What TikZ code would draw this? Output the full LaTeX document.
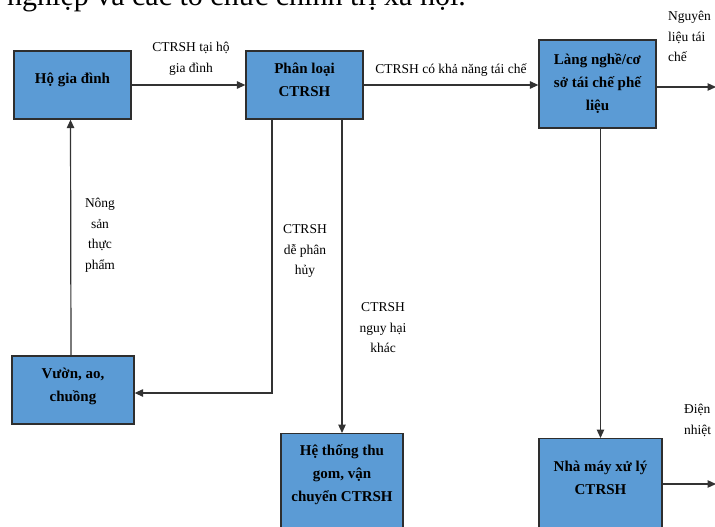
\documentclass[tikz,border=0pt]{standalone}
\usepackage{fontspec}
\setmainfont{Liberation Serif}
\usetikzlibrary{arrows.meta}
\definecolor{boxblue}{HTML}{5B9BD5}
\definecolor{edgegray}{HTML}{2E2E2E}
\definecolor{linegray}{HTML}{333333}
\tikzset{
  box/.style={draw=edgegray, line width=1.3pt, fill=boxblue, inner sep=0pt},
  boxtext/.style={align=center, font=\bfseries\fontsize{15}{23}\selectfont, inner sep=0pt},
  lbl/.style={align=center, font=\fontsize{13.5}{20.5}\selectfont, inner sep=0pt},
  lbll/.style={align=left, font=\fontsize{13.5}{20.5}\selectfont, inner sep=0pt},
  arr/.style={draw=linegray, line width=1.2pt, -{Triangle[length=8.5pt,width=7.5pt]}},
  ln/.style={draw=linegray, line width=1.2pt}
}
\begin{document}
\begin{tikzpicture}[x=1pt,y=-1pt]
\useasboundingbox (0,0) rectangle (715,527);
% partial title line at top
\node[anchor=base west, inner sep=0pt, font=\fontsize{30}{32}\selectfont] (title) at (7,6) {nghiệp và các tổ chức chính trị xã hội.};
% boxes
\node[box, minimum width=117, minimum height=68] (hgd) at (72.5,85) {};
\node[boxtext] (hgdt) at (72.5,80) {Hộ gia đình};
\node[box, minimum width=117, minimum height=68] (pl) at (304.5,85) {};
\node[boxtext] (plt) at (304.5,80) {Phân loại\\CTRSH};
\node[box, minimum width=117, minimum height=88] (lng) at (597.5,84) {};
\node[boxtext] (lngt) at (597.5,84) {Làng nghề/cơ\\sở tái chế phế\\liệu};
\node[box, minimum width=122, minimum height=68] (vac) at (73,390) {};
\node[boxtext] (vact) at (73,386) {Vườn, ao,\\chuồng};
\node[box, minimum width=122, minimum height=130, anchor=north] (ht) at (342,433) {};
\node[boxtext] (htt) at (342,475) {Hệ thống thu\\gom, vận\\chuyển CTRSH};
\node[box, minimum width=123, minimum height=130, anchor=north] (nm) at (600.5,438) {};
\node[boxtext] (nmt) at (600.5,478) {Nhà máy xử lý\\CTRSH};
% free ends
\coordinate (outA) at (716,87);
\coordinate (outB) at (716,484);
% connectors
\draw[arr] (hgd.east) -- (pl.west);
\draw[arr] (pl.east) -- (pl.east -| lng.west);
\draw[arr] (lng.east |- outA) -- (outA);
\draw[arr] (nm.north |- lng.south) -- (nm.north);
\draw[arr] (nm.east |- outB) -- (outB);
\draw[arr] ([xshift=-32.5]pl.south) |- ([yshift=-3]vac.east);
\draw[arr] (ht.north |- pl.south) -- (ht.north);
\draw[arr] ([xshift=-2]vac.north) -- ([xshift=-2]hgd.south);
% labels
\node[lbl] (l1) at (191,59) {CTRSH tại hộ\\gia đình};
\node[lbl] (l2) at (451,70) {CTRSH có khả năng tái chế};
\node[lbll, anchor=north west] (l3) at (668,11) {Nguyên\\liệu tái\\chế};
\node[lbl] (l4) at (100,235) {Nông\\sản\\thực\\phẩm};
\node[lbl] (l5) at (305,251) {CTRSH\\dễ phân\\hủy};
\node[lbl] (l6) at (383,328) {CTRSH\\nguy hại\\khác};
\node[lbll, anchor=north west] (l7) at (684,404) {Điện\\nhiệt};
\end{tikzpicture}
\end{document}
